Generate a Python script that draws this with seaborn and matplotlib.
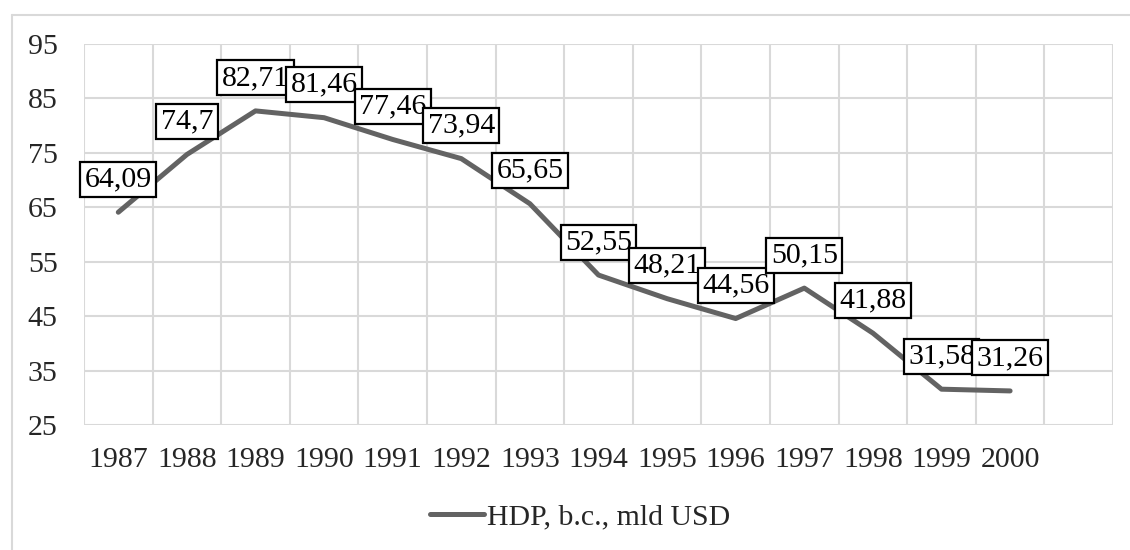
import matplotlib
matplotlib.use("Agg")
import matplotlib.pyplot as plt
from matplotlib.lines import Line2D
import seaborn as sns
import pandas as pd

years = ["1987", "1988", "1989", "1990", "1991", "1992", "1993",
         "1994", "1995", "1996", "1997", "1998", "1999", "2000"]
values = [64.09, 74.7, 82.71, 81.46, 77.46, 73.94, 65.65,
          52.55, 48.21, 44.56, 50.15, 41.88, 31.58, 31.26]
value_labels = ["64,09", "74,7", "82,71", "81,46", "77,46", "73,94", "65,65",
                "52,55", "48,21", "44,56", "50,15", "41,88", "31,58", "31,26"]
series_name = "HDP, b.c., mld USD"
y_ticks = [25, 35, 45, 55, 65, 75, 85, 95]

sns.set_theme(style="white")
plt.rcParams["font.family"] = ["Liberation Serif", "DejaVu Serif"]

FS = 21.5

df = pd.DataFrame({"pos": list(range(len(years))), "value": values,
                   "series": series_name})

fig = plt.figure(figsize=(11.3, 5.5), dpi=100)
ax = fig.add_axes([84/1130, 1-425/550, (1113-84)/1130, (425-44)/550])

line_color = "#636363"
sns.lineplot(data=df, x="pos", y="value", hue="series", palette=[line_color],
             ax=ax, linewidth=3.6, legend=False)
for l in ax.lines:
    l.set_solid_capstyle("round")
    l.set_solid_joinstyle("round")

ax.set_xlim(-0.5, 14.5)
ax.set_ylim(25, 95)
ax.set_yticks(y_ticks)
ax.set_yticklabels([str(t) for t in y_ticks], fontsize=FS)
ax.set_xticks(range(len(years)))
ax.set_xticklabels(years, fontsize=FS)
ax.tick_params(axis="both", length=0)
ax.tick_params(axis="y", pad=19)
ax.tick_params(axis="x", pad=16)
ax.set_xlabel("")
ax.set_ylabel("")

grid_c = "#d9d9d9"
for yv in y_ticks:
    ax.axhline(yv, color=grid_c, lw=1.5, zorder=0)
for i in range(16):
    ax.axvline(i - 0.5, color=grid_c, lw=1.5, zorder=0)
for s in ax.spines.values():
    s.set_visible(False)

for i, (v, t) in enumerate(zip(values, value_labels)):
    ax.annotate(t, (i, v), xytext=(0, 33), textcoords="offset pixels",
                ha="center", va="center", fontsize=FS, color="black",
                zorder=5,
                bbox=dict(boxstyle="square,pad=0.15", fc="white", ec="black", lw=1.6))

handle = Line2D([0], [0], color=line_color, lw=3.6, solid_capstyle="round")
fig.legend([handle], [series_name], loc="center", bbox_to_anchor=(580/1130, 1-517/550),
           frameon=False, fontsize=FS, handlelength=1.8, handletextpad=0.1)

# outer chart border (partially visible)
border_c = "#d9d9d9"
fig.add_artist(Line2D([12/1130, 1.0], [1-15/550, 1-15/550], color=border_c, lw=1.5))
fig.add_artist(Line2D([12/1130, 12/1130], [0.0, 1-15/550], color=border_c, lw=1.5))

fig.savefig("out.png", dpi=100)
